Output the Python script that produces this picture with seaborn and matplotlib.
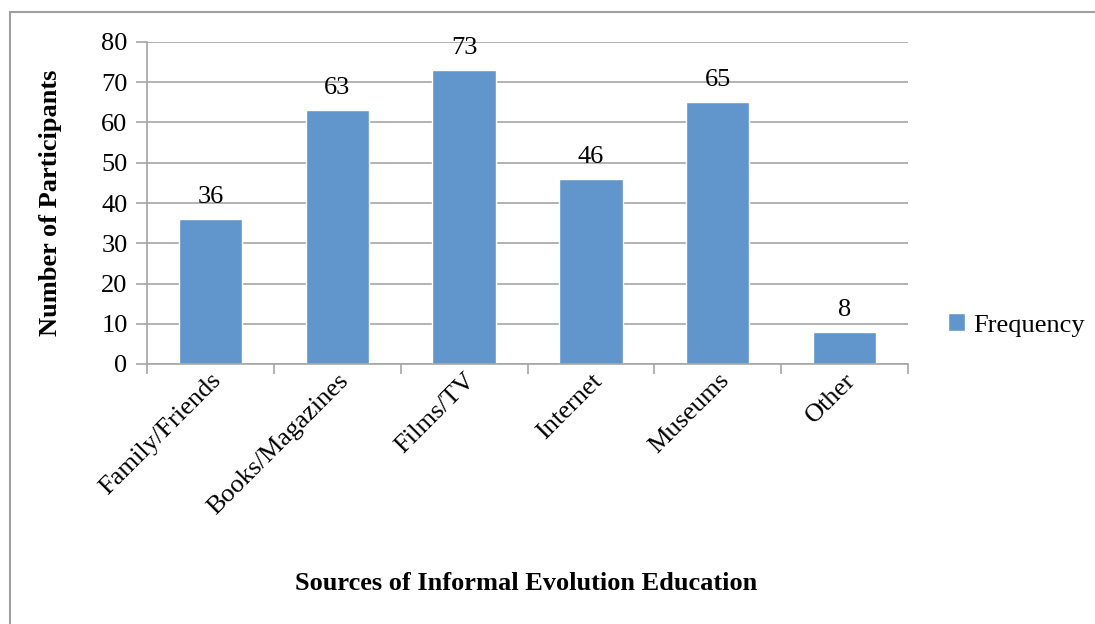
import matplotlib
matplotlib.use("Agg")
import matplotlib.pyplot as plt
import seaborn as sns
from matplotlib.patches import Rectangle

categories = ["Family/Friends", "Books/Magazines", "Films/TV", "Internet", "Museums", "Other"]
values = [36, 63, 73, 46, 65, 8]
series_name = "Frequency"
y_ticks = [0, 10, 20, 30, 40, 50, 60, 70, 80]

sns.set_theme(style="white")
plt.rcParams["font.family"] = ["Liberation Serif", "DejaVu Serif"]
plt.rcParams["text.color"] = "black"
plt.rcParams["xtick.color"] = "black"
plt.rcParams["ytick.color"] = "black"
plt.rcParams["axes.labelcolor"] = "black"

W, H = 1095, 624
fig = plt.figure(figsize=(W / 100, H / 100), dpi=100)
ax = fig.add_axes([147 / W, 1 - 364 / H, (908 - 147) / W, (364 - 42) / H])

bar_color = "#6096CC"
grid_color = "#A6A6A6"
fs = 19

sns.barplot(x=categories, y=values, color=bar_color, width=0.5, ax=ax,
            label=series_name, saturation=1)
ax.bar_label(ax.containers[0], labels=[str(v) for v in values], padding=8, fontsize=fs, color="black")

ax.set_ylim(0, 80)
ax.set_xlim(-0.5, len(categories) - 0.5)
ax.set_yticks(y_ticks)
ax.set_yticklabels([str(t) for t in y_ticks], fontsize=fs)
ax.yaxis.grid(True, color=grid_color, linewidth=1.2)
ax.set_axisbelow(True)

ax.set_xticks(range(len(categories)))
ax.set_xticklabels(categories, rotation=45, ha="right", rotation_mode="anchor", fontsize=fs)
ax.set_xticks([i - 0.5 for i in range(len(categories) + 1)], minor=True)
ax.tick_params(axis="x", which="major", length=0, pad=4, labelcolor="black")
ax.tick_params(axis="x", which="minor", length=7, width=1.2, color=grid_color, direction="out", bottom=True)
ax.tick_params(axis="y", length=8, width=1.2, color=grid_color, direction="out", left=True, pad=6,
               labelcolor="black")

for s in ["top", "right"]:
    ax.spines[s].set_visible(False)
for s in ["left", "bottom"]:
    ax.spines[s].set_color(grid_color)
    ax.spines[s].set_linewidth(1.2)

ax.set_ylabel("Number of Participants", fontsize=fs, fontweight="bold", color="black")
ax.set_xlabel("")
fig.text(526 / W, 1 - 583 / H, "Sources of Informal Evolution Education",
         ha="center", va="center", fontsize=fs, fontweight="bold", color="black")
ax.yaxis.set_label_coords(62 / W, 1 - 203 / H, transform=fig.transFigure)

leg = ax.legend(loc="center left", bbox_to_anchor=(924 / W, 1 - 325 / H),
                bbox_transform=fig.transFigure, frameon=False, fontsize=fs,
                handlelength=0.65, handleheight=0.65, handletextpad=0.3)
for t in leg.get_texts():
    t.set_color("black")

fig.patches.append(Rectangle((10 / W, -0.1), 1.2, 1 - 12 / H + 0.1, transform=fig.transFigure,
                             fill=False, edgecolor="#A0A0A0", linewidth=1.5))

fig.savefig("out.png", dpi=100, facecolor="white")
